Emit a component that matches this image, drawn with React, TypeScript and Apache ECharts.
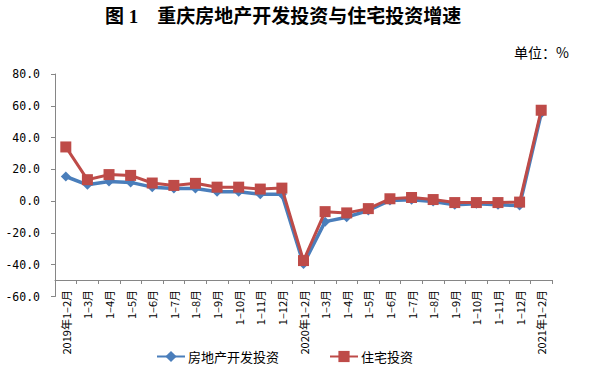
import React, { useEffect, useRef } from "react";
import * as echarts from "echarts";

const categories = [
  "2019年1–2月", "1–3月", "1–4月", "1–5月", "1–6月", "1–7月", "1–8月", "1–9月", "1–10月", "1–11月", "1–12月",
  "2020年1–2月", "1–3月", "1–4月", "1–5月", "1–6月", "1–7月", "1–8月", "1–9月", "1–10月", "1–11月", "1–12月",
  "2021年1–2月",
];

const realEstate = [
  15.5, 10.3, 12.4, 11.8, 8.8, 8.0, 8.0, 5.9, 5.9, 4.4, 4.4,
  -39.6, -12.9, -10.1, -5.9, 0.4, 0.8, -0.2, -2.3, -1.7, -2.3, -2.8,
  55.1,
];

const residential = [
  34.1, 13.5, 16.7, 16.2, 11.4, 9.9, 11.2, 8.8, 8.8, 7.6, 8.2,
  -37.4, -6.6, -7.4, -4.7, 1.5, 2.3, 1.0, -0.9, -0.9, -0.9, -0.6,
  57.2,
];

const yTicks = [-60, -40, -20, 0, 20, 40, 60, 80];

const seriesNames = ["房地产开发投资", "住宅投资"];

export default function App() {
  const ref = useRef<HTMLDivElement>(null);
  useEffect(() => {
    if (!ref.current) return;
    const chart = echarts.init(ref.current, null, { renderer: "svg" });
    const axisColor = "#868686";
    chart.setOption({
      animation: false,
      backgroundColor: "#ffffff",
      graphic: [
        {
          type: "text",
          x: 283,
          y: 16,
          style: {
            text: "图 1　重庆房地产开发投资与住宅投资增速",
            fontFamily: "Liberation Serif, Noto Sans CJK SC",
            fontWeight: "bold",
            fontSize: 19,
            fill: "#000",
            textAlign: "center",
            textVerticalAlign: "middle",
          },
        },
        {
          type: "text",
          x: 514,
          y: 52,
          style: {
            text: "单位：%",
            fontFamily: "Noto Sans CJK SC",
            fontSize: 14,
            fill: "#000",
            textAlign: "left",
            textVerticalAlign: "middle",
          },
        },
      ],
      legend: {
        left: 151,
        top: 345,
        itemWidth: 28,
        itemHeight: 14,
        itemGap: 50,
        textStyle: { fontFamily: "Noto Sans CJK SC", fontSize: 13, color: "#000", padding: [0, 0, 0, -2] },
        data: seriesNames,
      },
      grid: { left: 55, right: 39, top: 74, bottom: 80.5, containLabel: false },
      xAxis: {
        type: "category",
        data: categories,
        boundaryGap: true,
        offset: -16.5,
        axisLine: { onZero: false, lineStyle: { color: axisColor, width: 1 } },
        axisTick: { show: true, length: 4, lineStyle: { color: axisColor } },
        axisLabel: {
          interval: 0,
          rotate: 90,
          margin: 10,
          fontSize: 11,
          fontFamily: "Noto Sans CJK SC",
          color: "#000",
        },
        splitLine: { show: false },
      },
      yAxis: {
        type: "value",
        min: yTicks[0],
        max: yTicks[yTicks.length - 1],
        interval: 20,
        axisLine: { show: true, lineStyle: { color: axisColor, width: 1 } },
        axisTick: { show: true, length: 4, lineStyle: { color: axisColor } },
        splitLine: { show: false },
        axisLabel: {
          margin: 15,
          fontSize: 11.5,
          fontFamily: "DejaVu Sans Mono",
          color: "#000",
          formatter: (v: number) => v.toFixed(1),
        },
      },
      series: [
        {
          name: seriesNames[0],
          type: "line",
          data: realEstate,
          symbol: "diamond",
          symbolSize: 10,
          color: "#4A7EBB",
          lineStyle: { width: 3.5, color: "#4A7EBB" },
          itemStyle: { color: "#4A7EBB" },
          z: 2,
        },
        {
          name: seriesNames[1],
          type: "line",
          data: residential,
          symbol: "rect",
          symbolSize: 11,
          color: "#BE4B48",
          lineStyle: { width: 3, color: "#BE4B48" },
          itemStyle: { color: "#BE4B48" },
          z: 3,
        },
      ],
    });
    return () => chart.dispose();
  }, []);
  return <div ref={ref} style={{ width: 591, height: 377, position: "absolute", left: 0, top: 0 }} />;
}
